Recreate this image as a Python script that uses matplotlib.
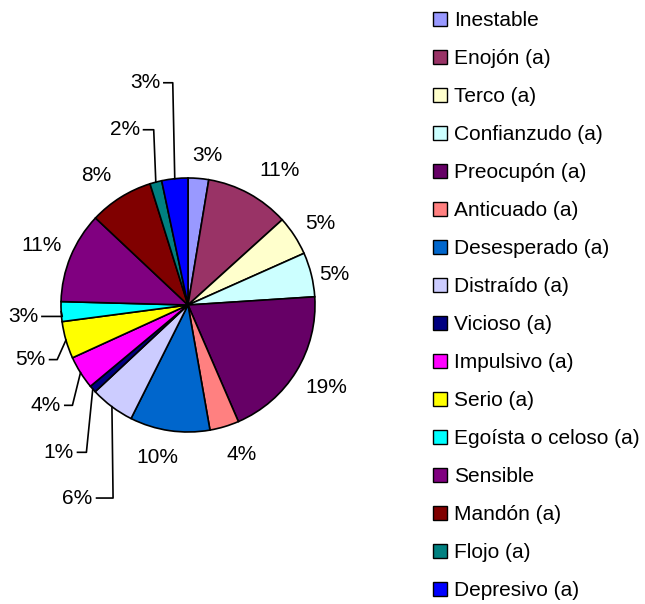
import numpy as np
import matplotlib
matplotlib.use('Agg')
import matplotlib.pyplot as plt
from matplotlib.patches import Patch

plt.rcParams['font.family'] = ['Liberation Sans', 'DejaVu Sans']

# data (clockwise from 12 o'clock)
categories = ['Inestable', 'Enojón (a)', 'Terco (a)', 'Confianzudo (a)', 'Preocupón (a)',
              'Anticuado (a)', 'Desesperado (a)', 'Distraído (a)', 'Vicioso (a)',
              'Impulsivo (a)', 'Serio (a)', 'Egoísta o celoso (a)', 'Sensible',
              'Mandón (a)', 'Flojo (a)', 'Depresivo (a)']
values = [2.6, 10.6, 5.0, 5.6, 19.4, 3.7, 10.1, 5.6, 0.9, 4.2, 4.7, 2.5, 11.5, 8.1, 1.5, 3.3]
pct_labels = ['3%', '11%', '5%', '5%', '19%', '4%', '10%', '6%', '1%', '4%', '5%', '3%',
              '11%', '8%', '2%', '3%']
colors = ['#9999FF', '#993366', '#FFFFCC', '#CCFFFF', '#660066', '#FF8080', '#0066CC',
          '#CCCCFF', '#000080', '#FF00FF', '#FFFF00', '#00FFFF', '#800080', '#800000',
          '#008080', '#0000FF']

# label spots in pie-radius units
label_pos = {0: (0.15, 1.18), 1: (0.72, 1.06), 2: (1.04, 0.64), 3: (1.15, 0.24),
             4: (1.09, -0.65), 5: (0.42, -1.18), 6: (-0.24, -1.20),
             12: (-1.15, 0.47), 13: (-0.72, 1.02)}
# leader-line labels: index -> (elbow, line start near text)
leaders = {
    7: ((-0.59, -1.52), (-0.72, -1.52)),
    8: ((-0.80, -1.16), (-0.87, -1.16)),
    9: ((-0.91, -0.79), (-0.97, -0.79)),
    10: ((-1.03, -0.43), (-1.09, -0.43)),
    11: ((-0.99, -0.09), (-1.15, -0.09)),
    14: ((-0.27, 1.38), (-0.35, 1.38)),
    15: ((-0.12, 1.75), (-0.19, 1.75)),
}

W, H = 645, 604
fig = plt.figure(figsize=(W / 100, H / 100), dpi=100)
ax = fig.add_axes([0, 0, 1, 1])

cx, cy, r = 188, 305, 127
wedges, _ = ax.pie(values, colors=colors, startangle=90, counterclock=False,
                   radius=1, wedgeprops=dict(edgecolor='black', linewidth=1.2))
ax.set_aspect('auto')
ax.set_xlim(-cx / r, (W - cx) / r)
ax.set_ylim((cy - H) / r, cy / r)
ax.axis('off')

fs = 15
for i, w in enumerate(wedges):
    mid = np.deg2rad((w.theta1 + w.theta2) / 2)
    if i in leaders:
        (ex, ey), (tx, ty) = leaders[i]
        ax.plot([np.cos(mid), ex, tx], [np.sin(mid), ey, ty], color='black', lw=1.2)
        ax.text(tx - 0.03, ty, pct_labels[i], ha='right', va='center', fontsize=fs)
    else:
        lx, ly = label_pos[i]
        ax.text(lx, ly, pct_labels[i], ha='center', va='center', fontsize=fs)

handles = [Patch(facecolor=c, edgecolor='black', linewidth=1.0) for c in colors]
fig.legend(handles, categories, loc='upper left', bbox_to_anchor=(433 / W, 1 - 11.5 / H),
           frameon=False, fontsize=fs, handlelength=0.65, handleheight=0.65,
           handletextpad=0.36, labelspacing=0.912, borderpad=0, borderaxespad=0)

fig.savefig('out.png', dpi=100)
